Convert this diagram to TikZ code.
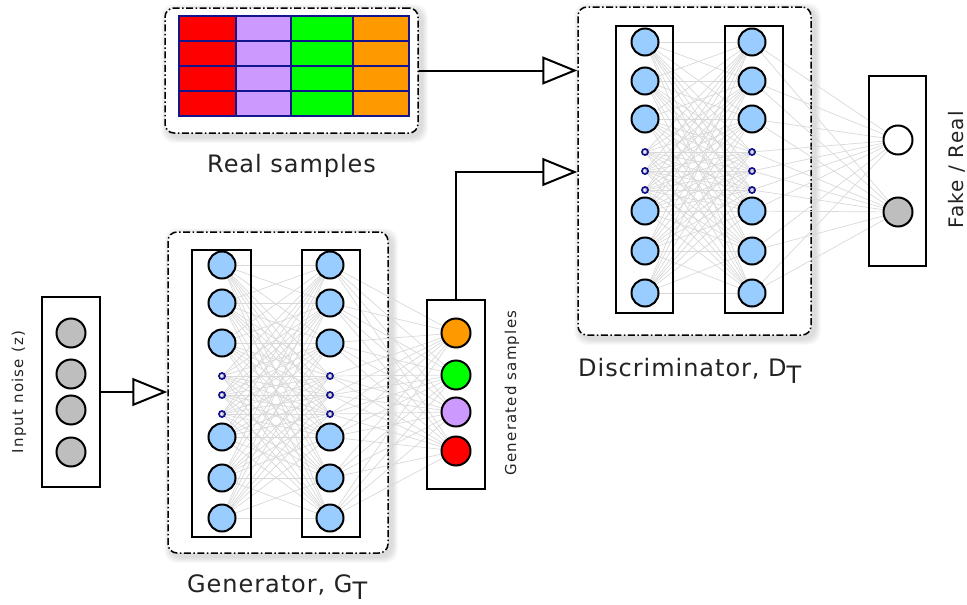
\documentclass[tikz,border=0pt]{standalone}
\usepackage{fontspec}
\setmainfont{DejaVu Sans}
\newfontfamily\lblfont[LetterSpace=4]{DejaVu Sans}
\newfontfamily\smallfont[LetterSpace=8]{DejaVu Sans}
\newfontfamily\midfont[LetterSpace=6]{DejaVu Sans}
\usetikzlibrary{arrows.meta,calc}
\definecolor{nblue}{RGB}{153,204,255}
\definecolor{ngray}{RGB}{190,190,190}
\definecolor{cred}{RGB}{255,0,0}
\definecolor{cpur}{RGB}{204,153,255}
\definecolor{cgrn}{RGB}{0,255,0}
\definecolor{corg}{RGB}{255,153,0}
\definecolor{navy}{RGB}{20,20,140}
\definecolor{txt}{RGB}{35,35,35}
\pgfdeclarelayer{bg}
\pgfdeclarelayer{lines}
\pgfsetlayers{bg,lines,main}
\newcommand\biglbl{\lblfont\fontsize{24}{28}\selectfont}
\begin{document}
\begin{tikzpicture}[x=1pt,y=-1pt,
  neuron/.style={circle, draw=black, line width=2pt, fill=nblue, minimum size=27pt, inner sep=0pt},
  grayn/.style={neuron, fill=ngray, minimum size=29pt},
  dotn/.style={circle, draw=navy, line width=1.8pt, minimum size=6pt, inner sep=0pt},
  layerbox/.style={draw=black, line width=2.1pt, inner sep=0pt},
  groupbox/.style={draw=black, fill=white, line width=1.5pt, rounded corners=9pt, inner sep=0pt,
     dash pattern=on 7pt off 2.5pt on 1.5pt off 2.5pt},
  conn/.style={draw=black!15, line width=0.7pt},
  flow/.style={draw=black, line width=2pt, -{Triangle[open, length=35pt, width=28pt, line width=2pt]}},
  lbl/.style={text=txt, font=\biglbl, inner sep=0pt}
]
\useasboundingbox (0,0) rectangle (967,605);

% group boxes with soft shadows
\begin{pgfonlayer}{bg}
  \node[groupbox, draw=none, fill=none, minimum width=253pt, minimum height=125pt] (real) at (291.5,70.5) {};
  \node[groupbox, draw=none, fill=none, minimum width=220pt, minimum height=321pt] (gen) at (278,392.5) {};
  \node[groupbox, draw=none, fill=none, minimum width=233pt, minimum height=328pt] (disc) at (694.5,171) {};
  \foreach \b in {real,gen,disc}{
    \foreach \s in {1,...,6}{
      \fill[black, opacity=0.022, rounded corners=12pt]
        ($(\b.north west)+(3-\s,3-\s)$) rectangle ($(\b.south east)+(3+\s,3+\s)$);
    }
  }
  \node[groupbox, minimum width=253pt, minimum height=125pt] at (291.5,70.5) {};
  \node[groupbox, minimum width=220pt, minimum height=321pt] at (278,392.5) {};
  \node[groupbox, minimum width=233pt, minimum height=328pt] at (694.5,171) {};
\end{pgfonlayer}

% real samples grid
\foreach \c/\xa/\xb in {cred/179/236, cpur/236/291, cgrn/291/353, corg/353/409}{
  \foreach \ya/\yb in {16/41,41/66,66/91,91/116}{
    \filldraw[fill=\c, draw=navy, line width=1.6pt] (\xa,\ya) rectangle (\xb,\yb);
  }
}
\node[lbl, anchor=base west] (reallbl) at (207,172) {Real samples};

% input noise
\node[layerbox, minimum width=58pt, minimum height=190pt] (noise) at (71,392) {};
\foreach \i/\y in {1/333,2/374,3/410,4/452}{
  \node[grayn] (z\i) at (71,\y) {};
}
\node[text=txt, rotate=90, font=\smallfont\fontsize{15}{17}\selectfont, inner sep=0pt] (noiselbl) at (19,392) {Input noise (z)};

% generator
\node[layerbox, minimum width=59pt, minimum height=287pt] (gL) at (221.5,393.5) {};
\node[layerbox, minimum width=58pt, minimum height=287pt] (gR) at (331,393.5) {};
\foreach \i/\y in {1/265,2/303,3/343,4/437,5/478,6/518}{
  \node[neuron] (ga\i) at (222,\y) {};
  \node[neuron] (gb\i) at (330,\y) {};
}
\foreach \i/\y in {7/376,8/395,9/414}{
  \node[dotn] (ga\i) at (222,\y) {};
  \node[dotn] (gb\i) at (330,\y) {};
}
\node[lbl, anchor=base west] (genlbl) at (187,592) {Generator, G\raisebox{-7pt}{T}};

% generated samples
\node[layerbox, minimum width=58pt, minimum height=189pt] (gs) at (456,394.5) {};
\foreach \i/\y/\c in {1/333/corg,2/375/cgrn,3/412/cpur,4/451/cred}{
  \node[neuron, fill=\c, minimum size=29pt] (s\i) at (456,\y) {};
}
\node[text=txt, rotate=90, font=\smallfont\fontsize{15}{17}\selectfont, inner sep=0pt] (gslbl) at (512,393) {Generated samples};

% discriminator
\node[layerbox, minimum width=57pt, minimum height=287pt] (dL) at (644.5,169.5) {};
\node[layerbox, minimum width=58pt, minimum height=287pt] (dR) at (754,169.5) {};
\foreach \i/\y in {1/42,2/81,3/119,4/211,5/251,6/293}{
  \node[neuron] (da\i) at (645,\y) {};
  \node[neuron] (db\i) at (752,\y) {};
}
\foreach \i/\y in {7/152,8/171,9/190}{
  \node[dotn] (da\i) at (645,\y) {};
  \node[dotn] (db\i) at (752,\y) {};
}
\node[lbl, anchor=base west] (disclbl) at (578,376) {Discriminator, D\raisebox{-7pt}{T}};

% output
\node[layerbox, minimum width=57pt, minimum height=190pt] (out) at (897.5,171) {};
\node[neuron, fill=white, minimum size=29pt] (o1) at (898,140) {};
\node[grayn] (o2) at (898,212) {};
\node[text=txt, rotate=90, font=\midfont\fontsize{20}{22}\selectfont, inner sep=0pt] (outlbl) at (957,170) {Fake / Real};

% connections
\begin{pgfonlayer}{lines}
  \foreach \i in {1,...,9}{
    \foreach \j in {1,...,9}{
      \draw[conn] (ga\i.center) -- (gb\j.center);
      \draw[conn] (da\i.center) -- (db\j.center);
    }
    \foreach \j in {1,...,4}{
      \draw[conn] (gb\i.center) -- (s\j.center);
    }
    \foreach \j in {1,2}{
      \draw[conn] (db\i.center) -- (o\j.center);
    }
  }
\end{pgfonlayer}

% flow arrows
\coordinate (dIn) at (disc.west |- 0,172);
\draw[flow] (real.east) -- (real.east -| disc.west);
\draw[flow] (gs.north) |- (dIn);
\draw[flow] (noise.east) -- (noise.east -| gen.west);
\end{tikzpicture}
\end{document}
